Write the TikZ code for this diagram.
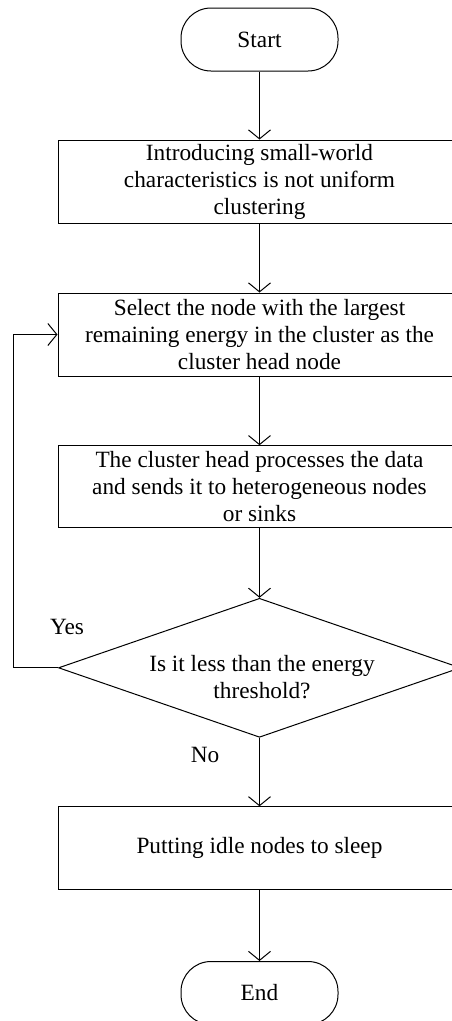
\documentclass[tikz,border=0pt]{standalone}
\usepackage{fontspec}
\setmainfont{Liberation Serif}
\usetikzlibrary{arrows.meta,shapes.geometric}
\begin{document}
\begin{tikzpicture}[x=1pt,y=-1pt,
  every node/.style={font=\fontsize{23.3}{27}\selectfont},
  term/.style={draw,line width=1pt,rounded corners=30pt,minimum width=157pt,minimum height=63pt,inner sep=0pt},
  proc/.style={draw,line width=1pt,minimum width=403pt,inner sep=0pt,align=center},
  dia/.style={draw,line width=1pt,diamond,aspect=2.89,minimum width=402pt,minimum height=139pt,inner sep=0pt},
  txt/.style={align=center,inner sep=0pt},
  flow/.style={line width=1pt,-{Straight Barb[length=9pt,width=22pt,line width=1pt]}}
]
\useasboundingbox (0,0) rectangle (452,1021);
\node[term] (start) at (259.5,39.5) {Start};
\node[proc,minimum height=83pt] (b1) at (259.5,181.5) {Introducing small-world\\characteristics is not uniform\\clustering};
\node[proc,minimum height=83pt] (b2) at (259.5,334.5) {Select the node with the largest\\remaining energy in the cluster as the\\cluster head node};
\node[proc,minimum height=82pt] (b3) at (259.5,486.7) {The cluster head processes the data\\and sends it to heterogeneous nodes\\or sinks};
\node[dia] (d) at (259.5,667.8) {};
\node[txt] (dt) at (262,677) {Is it less than the energy\\threshold?};
\node[proc,minimum height=83pt] (b4) at (259.5,848.3) {Putting idle nodes to sleep};
\node[term] (end) at (259.5,993) {End};
\node[txt] (yes) at (67,627) {Yes};
\node[txt] (no) at (205,755) {No};
\coordinate (lp) at (13.3,667.8);
\draw[flow] (start) -- (b1);
\draw[flow] (b1) -- (b2);
\draw[flow] (b2) -- (b3);
\draw[flow] (b3) -- (d.north);
\draw[flow] (d.south) -- (b4);
\draw[flow] (b4) -- (end);
\draw[flow] (d.west) -- (lp) |- (b2.west);
\end{tikzpicture}
\end{document}
